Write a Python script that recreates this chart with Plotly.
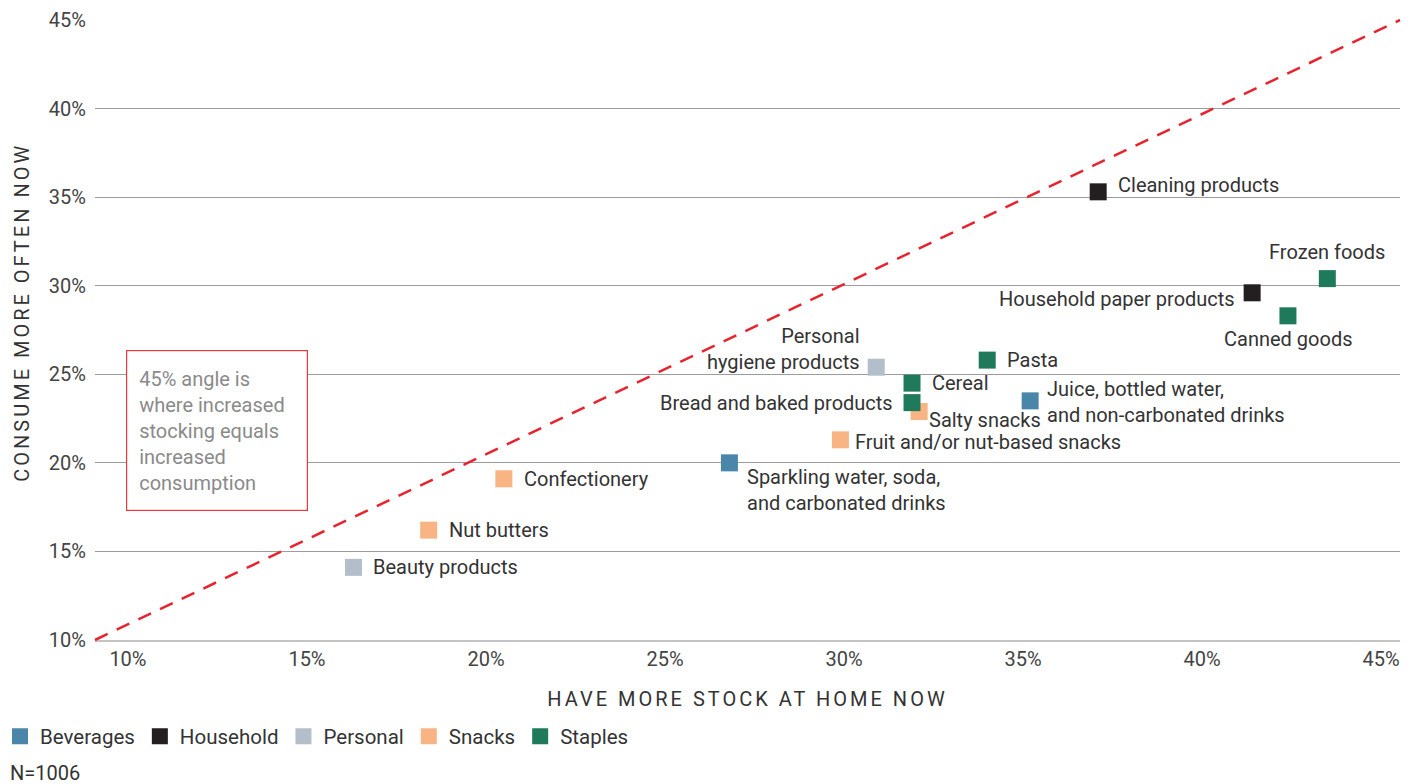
import plotly.graph_objects as go

# Product categories and survey shares (% of respondents)
products = [
    "Cleaning products", "Frozen foods", "Household paper products", "Canned goods",
    "Pasta", "Personal<br>hygiene products", "Cereal", "Bread and baked products",
    "Salty snacks", "Juice, bottled water,<br>and non-carbonated drinks",
    "Fruit and/or nut-based snacks", "Sparkling water, soda,<br>and carbonated drinks",
    "Confectionery", "Nut butters", "Beauty products",
]
groups = [
    "Household", "Staples", "Household", "Staples",
    "Staples", "Personal", "Staples", "Staples",
    "Snacks", "Beverages",
    "Snacks", "Beverages",
    "Snacks", "Snacks", "Personal",
]
stock_more = [37.1, 43.5, 41.4, 42.4, 34.0, 30.9, 31.9, 31.9, 32.1, 35.2, 29.9, 26.8, 20.5, 18.4, 16.3]
consume_more = [35.3, 30.4, 29.6, 28.3, 25.8, 25.4, 24.5, 23.4, 22.9, 23.5, 21.3, 20.0, 19.1, 16.2, 14.1]

group_order = ["Beverages", "Household", "Personal", "Snacks", "Staples"]
group_colors = {
    "Beverages": "#4a86a9",
    "Household": "#231f20",
    "Personal": "#b2bfcb",
    "Snacks": "#f8b483",
    "Staples": "#1f7a5b",
}

x_ticks = [10, 15, 20, 25, 30, 35, 40, 45]
y_ticks = [10, 15, 20, 25, 30, 35, 40, 45]
x_range = [9.08, 45.53]
y_range = [10, 45]
sample_note = "N=1006"
box_note = "45% angle is<br>where increased<br>stocking equals<br>increased<br>consumption"

# Label placement for each product: (anchor, x shift px, y shift px, align)
label_place = {
    "Cleaning products": ("left", 18, 7, "left"),
    "Frozen foods": ("center", 0, 27, "center"),
    "Household paper products": ("right", -15, -6, "right"),
    "Canned goods": ("center", 0, -23, "center"),
    "Pasta": ("left", 18, 0, "left"),
    "Personal<br>hygiene products": ("right", -14, 18, "right"),
    "Cereal": ("left", 18, 0, "left"),
    "Bread and baked products": ("right", -17, 0, "right"),
    "Salty snacks": ("left", 8, -9, "left"),
    "Juice, bottled water,<br>and non-carbonated drinks": ("left", 15, -1, "left"),
    "Fruit and/or nut-based snacks": ("left", 13, -2, "left"),
    "Sparkling water, soda,<br>and carbonated drinks": ("left", 16, -27, "left"),
    "Confectionery": ("left", 18, 0, "left"),
    "Nut butters": ("left", 18, 0, "left"),
    "Beauty products": ("left", 18, 0, "left"),
}

FONT = "Roboto, 'Noto Sans', sans-serif"
TEXT = "#333333"

fig = go.Figure()

for g in group_order:
    idx = [i for i, grp in enumerate(groups) if grp == g]
    fig.add_trace(go.Scatter(
        x=[stock_more[i] for i in idx],
        y=[consume_more[i] for i in idx],
        mode="markers",
        name=g,
        marker=dict(symbol="square", size=17, color=group_colors[g], line=dict(width=0)),
        hovertext=[products[i].replace("<br>", " ") for i in idx],
        hoverinfo="text+x+y",
    ))

# Diagonal reference line, corner to corner of the plotting area
fig.add_shape(
    type="line", xref="paper", yref="paper", x0=0, y0=0, x1=1, y1=1,
    line=dict(color="#e8232d", width=2.5, dash="14px,10px"), layer="above",
)

for i, name in enumerate(products):
    anchor, dx, dy, align = label_place[name]
    fig.add_annotation(
        x=stock_more[i], y=consume_more[i], text=name, showarrow=False,
        xanchor=anchor, yanchor="middle", xshift=dx, yshift=dy, align=align,
        font=dict(family=FONT, size=20, color=TEXT),
    )

# Explanatory note box
fig.add_annotation(
    xref="paper", yref="paper", x=0.0934, y=0.3387, text=box_note, showarrow=False,
    xanchor="center", yanchor="middle", align="left", valign="middle",
    width=156, height=135, borderpad=12,
    bordercolor="#e8383d", borderwidth=1.2, bgcolor="white",
    font=dict(family=FONT, size=20, color="#8a8a8a"),
)

# Vertical axis title
fig.add_annotation(
    xref="paper", yref="paper", x=-0.0559, y=0.528, text="CONSUME MORE OFTEN NOW",
    textangle=-90, showarrow=False, xanchor="center", yanchor="middle",
    font=dict(family=FONT, size=20, color=TEXT),
)

fig.add_annotation(
    xref="paper", yref="paper", x=-0.0667, y=-0.2145, text=sample_note, showarrow=False,
    xanchor="left", yanchor="middle",
    font=dict(family=FONT, size=20, color=TEXT),
)

fig.update_layout(
    width=1415, height=784,
    margin=dict(l=95, r=15, t=20, b=144, autoexpand=False),
    paper_bgcolor="white", plot_bgcolor="white",
    font=dict(family=FONT, size=20, color="#444444"),
    showlegend=True,
    legend=dict(
        orientation="h", xref="container", yref="container",
        x=-0.002, xanchor="left", y=0.0862, yanchor="top",
        font=dict(family=FONT, size=20.5, color=TEXT),
        itemsizing="trace", traceorder="normal", itemclick=False, itemdoubleclick=False,
    ),
    xaxis=dict(
        range=x_range, tickvals=x_ticks, ticktext=[f"{v}%" for v in x_ticks],
        showgrid=False, zeroline=False, showline=True, linecolor="#c4c4c4", linewidth=2,
        ticks="", tickfont=dict(family=FONT, size=20, color="#444444"),
        title=dict(text="HAVE MORE STOCK AT HOME NOW", standoff=22,
                   font=dict(family=FONT, size=20, color=TEXT)),
        automargin=False, fixedrange=True,
    ),
    yaxis=dict(
        range=y_range, tickvals=y_ticks, ticktext=[f"{v}%" for v in y_ticks],
        showgrid=True, gridcolor="#9c9c9c", gridwidth=1, zeroline=False, showline=False,
        ticks="", ticklabelstandoff=8, tickfont=dict(family=FONT, size=20, color="#444444"),
        automargin=False, fixedrange=True,
    ),
)

# Letter-spaced axis titles
post = """
var gd = document.getElementById('{plot_id}');
function spaceTitles(){
  gd.querySelectorAll('text').forEach(function(t){
    var s = t.textContent;
    if (s === 'HAVE MORE STOCK AT HOME NOW' || s === 'CONSUME MORE OFTEN NOW') {
      t.style.letterSpacing = '3px';
    }
  });
}
spaceTitles();
gd.on('plotly_afterplot', spaceTitles);
"""

fig.write_html("out.html", post_script=post, config={"displayModeBar": False})
